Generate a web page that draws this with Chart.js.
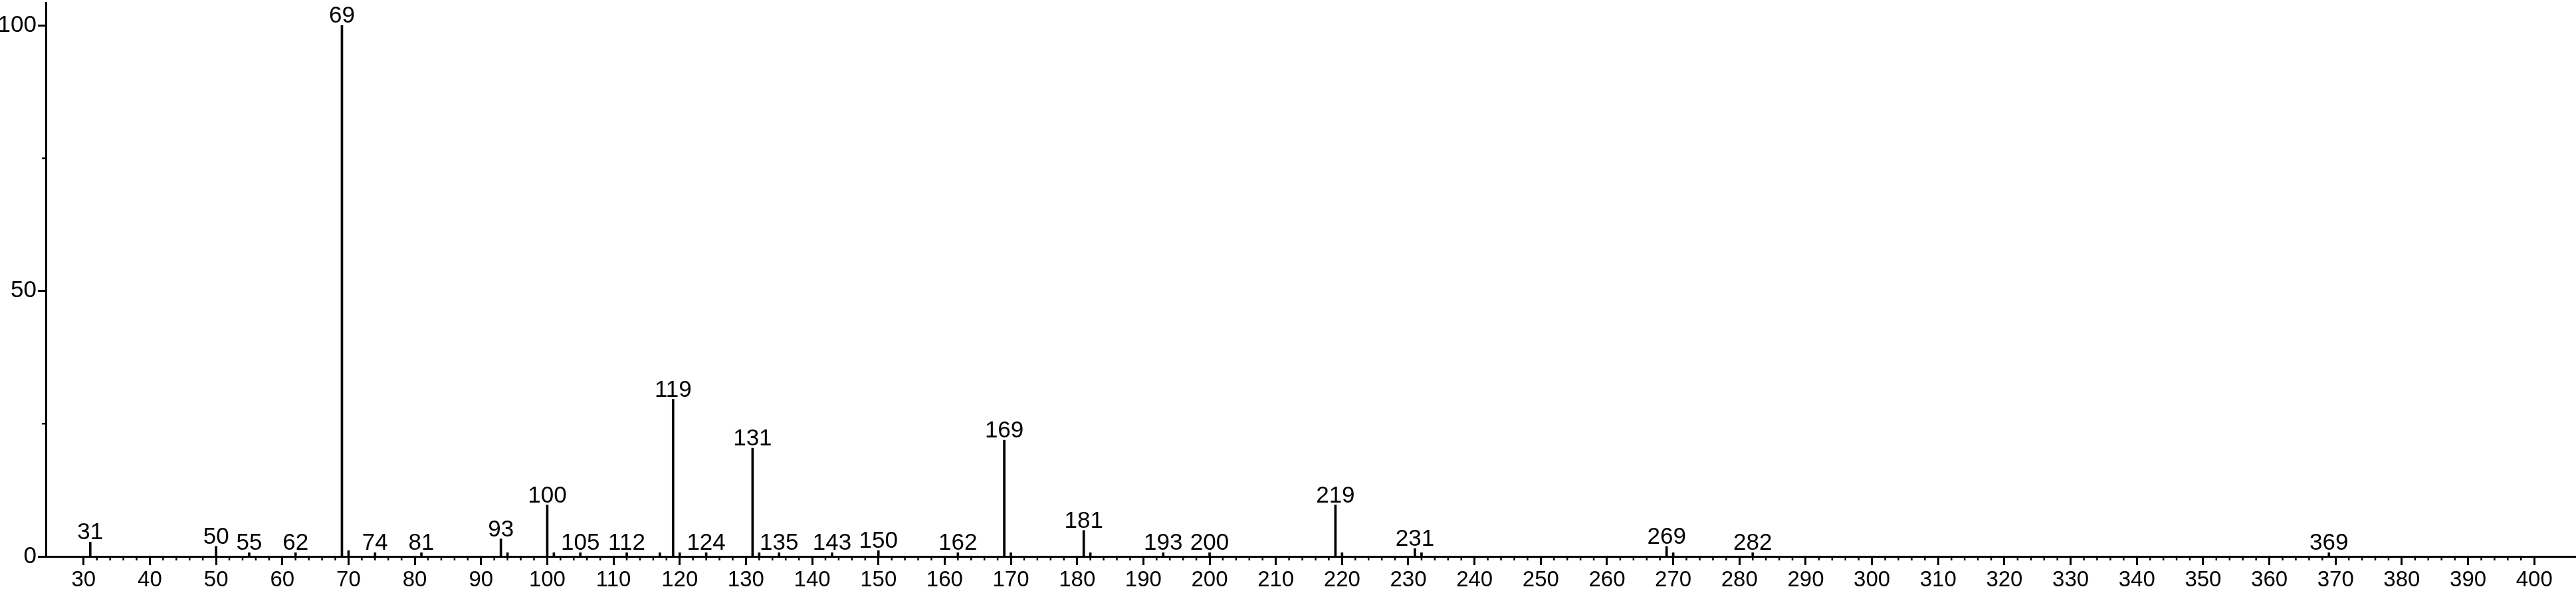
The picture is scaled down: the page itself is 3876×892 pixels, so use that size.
<!DOCTYPE html>
<html>
<head>
<meta charset="utf-8">
<script src="https://cdn.jsdelivr.net/npm/chart.js@4.4.0/dist/chart.umd.min.js"></script>
<style>
  html, body { margin: 0; padding: 0; background: #fff; }
  #wrap { width: 3876px; height: 892px; }
</style>
</head>
<body>
<div id="wrap"><canvas id="spectrum"></canvas></div>
<script>
// peaks (m/z) and relative intensity (%)
const mz = [31, 50, 55, 62, 69, 70, 74, 81, 93, 94, 100, 101, 105, 112, 117, 119, 120, 124,
            131, 132, 135, 143, 150, 162, 169, 170, 181, 182, 193, 200, 219, 220, 231, 232,
            269, 270, 282, 369];
const intensity = [2.7, 1.9, 0.7, 0.7, 100, 1.1, 0.7, 0.7, 3.3, 0.7, 9.7, 0.7, 0.7, 0.7, 0.7, 29.6, 0.7, 0.7,
                   20.4, 0.7, 0.7, 0.7, 1.1, 0.7, 21.9, 0.7, 4.9, 0.7, 0.7, 0.7, 9.7, 0.7, 1.5, 0.7,
                   1.9, 0.7, 0.7, 0.7];
// peaks that carry a number above them
const labeledPeaks = [31, 50, 55, 62, 69, 74, 81, 93, 100, 105, 112, 119, 124, 131, 135, 143, 150,
                      162, 169, 181, 193, 200, 219, 231, 269, 282, 369];
const xTickLabels = [30, 40, 50, 60, 70, 80, 90, 100, 110, 120, 130, 140, 150, 160, 170, 180, 190,
                     200, 210, 220, 230, 240, 250, 260, 270, 280, 290, 300, 310, 320, 330, 340,
                     350, 360, 370, 380, 390, 400];
const yTickLabels = [0, 50, 100];

const FONT = "'Liberation Sans', Arial, Helvetica, sans-serif";

// minor ticks every 2 on x, every 25 on y
const minorTicks = {
    id: 'minorTicks',
    afterDraw(chart) {
        const ctx = chart.ctx;
        const x = chart.scales.x, y = chart.scales.y;
        const area = chart.chartArea;
        ctx.save();
        ctx.strokeStyle = '#000';
        ctx.lineWidth = 2.5;
        ctx.beginPath();
        for (let v = xTickLabels[0]; v < xTickLabels[xTickLabels.length - 1]; v += 2) {
            if (xTickLabels.includes(v)) continue;
            const px = x.getPixelForValue(v);
            ctx.moveTo(px, area.bottom);
            ctx.lineTo(px, area.bottom + 6);
        }
        for (let v = 25; v < 100; v += 50) {
            const py = y.getPixelForValue(v);
            ctx.moveTo(area.left, py);
            ctx.lineTo(area.left - 6, py);
        }
        ctx.stroke();
        ctx.restore();
    }
};

// m/z numbers over the peaks
const peakLabels = {
    id: 'peakLabels',
    afterDatasetsDraw(chart) {
        const ctx = chart.ctx;
        const bars = chart.getDatasetMeta(0).data;
        ctx.save();
        ctx.fillStyle = '#000';
        ctx.font = '35px ' + FONT;
        ctx.textAlign = 'center';
        ctx.textBaseline = 'alphabetic';
        bars.forEach((bar, i) => {
            if (!labeledPeaks.includes(mz[i])) return;
            ctx.fillText(String(mz[i]), bar.x, bar.y - 4);
        });
        ctx.restore();
    }
};

const noEdgePadding = s => {
    s.paddingTop = 0; s.paddingBottom = 0;
    s.paddingLeft = 0; s.paddingRight = 0;
};

new Chart(document.getElementById('spectrum'), {
    type: 'bar',
    data: {
        datasets: [{
            data: mz.map((m, i) => ({ x: m, y: intensity[i] })),
            backgroundColor: '#000',
            borderWidth: 0,
            barThickness: 3
        }]
    },
    options: {
        responsive: true,
        maintainAspectRatio: false,
        animation: false,
        layout: { padding: { top: 4, right: 0, left: 0, bottom: 0 } },
        plugins: {
            legend: { display: false },
            tooltip: { enabled: false }
        },
        scales: {
            x: {
                type: 'linear',
                position: 'bottom',
                offset: false,
                min: 24.3,
                max: 406.3,
                afterFit: s => { s.height = 55; noEdgePadding(s); },
                border: { display: true, color: '#000', width: 3 },
                grid: { drawOnChartArea: false, offset: false, tickLength: 13, tickWidth: 3, tickColor: '#000' },
                ticks: {
                    stepSize: 10,
                    includeBounds: false,
                    autoSkip: false,
                    maxRotation: 0,
                    padding: 3,
                    color: '#000',
                    font: { family: FONT, size: 33 },
                    callback: v => xTickLabels.includes(v) ? String(v) : ''
                }
            },
            y: {
                min: 0,
                max: 104.3,
                afterFit: s => { s.width = 69; noEdgePadding(s); },
                border: { display: true, color: '#000', width: 3 },
                grid: {
                    drawOnChartArea: false,
                    tickLength: 12,
                    tickWidth: 3,
                    tickColor: c => yTickLabels.includes(c.tick.value) ? '#000' : 'rgba(0,0,0,0)'
                },
                ticks: {
                    stepSize: 50,
                    includeBounds: false,
                    padding: 2,
                    color: '#000',
                    font: { family: FONT, size: 35 },
                    callback: v => yTickLabels.includes(v) ? String(v) : ''
                }
            }
        }
    },
    plugins: [minorTicks, peakLabels]
});
</script>
</body>
</html>
